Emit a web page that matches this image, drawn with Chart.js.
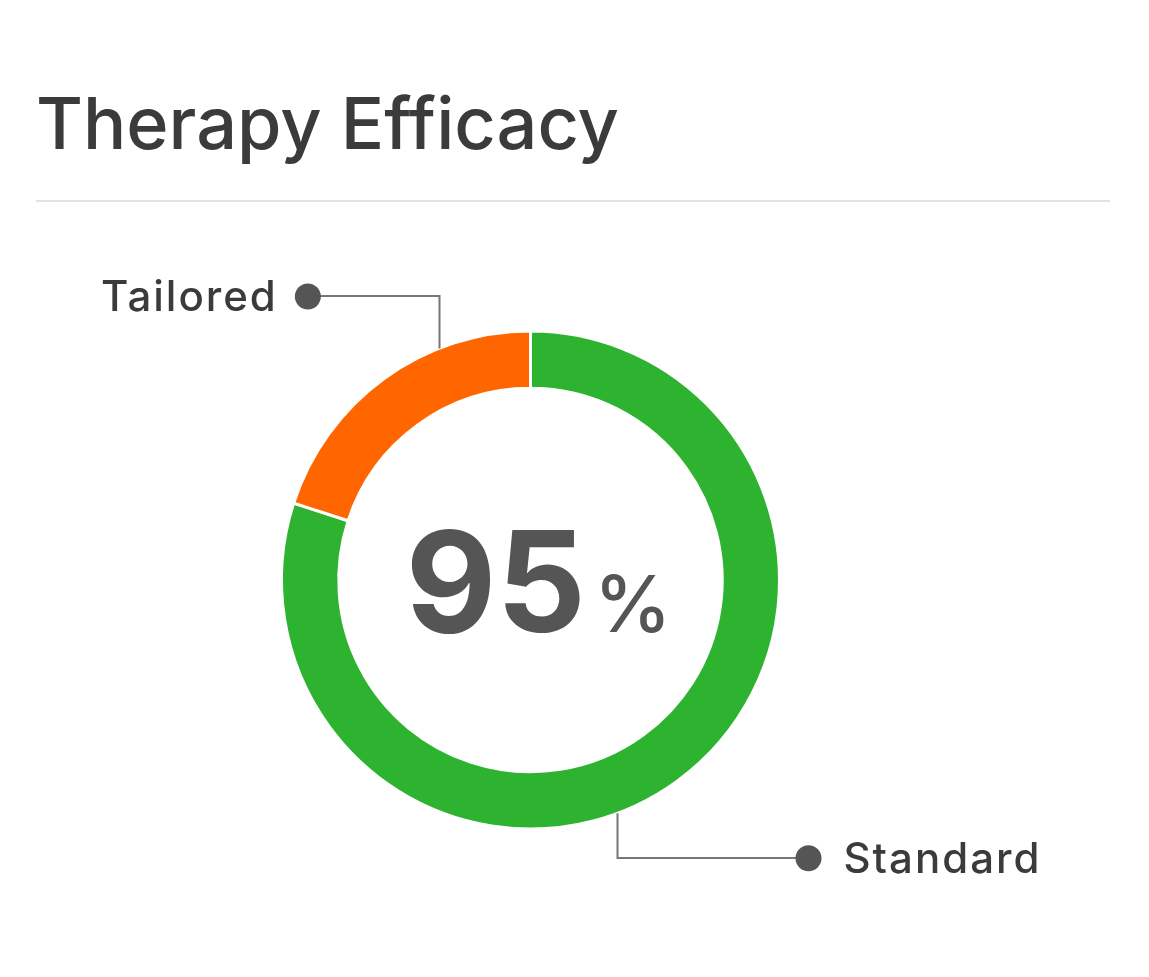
<!DOCTYPE html>
<html lang="en">
<head>
  <meta charset="UTF-8">
  <title>Therapy Efficacy</title>
  <script src="https://cdn.jsdelivr.net/npm/chart.js"></script>
  <style>
    html, body { margin: 0; padding: 0; background: #ffffff; }
    body { width: 1149px; height: 977px; position: relative; overflow: hidden; font-family: Inter, "Open Sans", sans-serif; }
    h1 { position: absolute; left: 36px; top: 78px; margin: 0; font-size: 72px; font-weight: 500; color: #3b3b3b; line-height: 90px; letter-spacing: 0; }
    .rule { position: absolute; left: 36px; top: 200px; width: 1074px; height: 2px; background: #e2e2e2; }
    #chart { position: absolute; left: 0; top: 0; }
  </style>
</head>
<body>
  <h1>Therapy Efficacy</h1>
  <div class="rule"></div>
  <canvas id="chart" width="1149" height="977"></canvas>
  <script>
    // data
    const labels = ['Standard', 'Tailored'];
    const values = [80, 20];
    const colors = ['#2db32f', '#ff6600'];
    const centerValue = '95';
    const centerUnit = '%';

    // where along each slice the leader line starts (0..1 of the slice)
    const anchorAt = [0.554, 0.70];

    const leaderPlugin = {
      id: 'leaders',
      afterDatasetsDraw(chart) {
        const ctx = chart.ctx;
        const arcs = chart.getDatasetMeta(0).data;
        ctx.save();

        // center text
        const cx = arcs[0].x, cy = arcs[0].y;
        ctx.fillStyle = '#555555';
        ctx.textBaseline = 'alphabetic';
        ctx.font = '700 140px Inter';
        const w1 = ctx.measureText(centerValue).width;
        ctx.font = '500 78px Inter';
        const w2 = ctx.measureText(centerUnit).width;
        const gap = 8;
        let x0 = cx + 8 - (w1 + gap + w2) / 2;
        ctx.font = '700 140px Inter';
        ctx.textAlign = 'left';
        ctx.fillText(centerValue, x0, cy + 52);
        ctx.font = '500 78px Inter';
        ctx.fillText(centerUnit, x0 + w1 + gap, cy + 52);

        arcs.forEach((arc, i) => {
          const a = arc.startAngle + (arc.endAngle - arc.startAngle) * anchorAt[i];
          const ax = arc.x + arc.outerRadius * Math.cos(a);
          const ay = arc.y + arc.outerRadius * Math.sin(a);
          let dotX, dotY;
          ctx.strokeStyle = '#777777';
          ctx.lineWidth = 2;
          ctx.beginPath();
          if (ay < arc.y) {
            dotY = ay - 52; dotX = ax - 131;
          } else {
            dotY = ay + 45; dotX = ax + 191;
          }
          ctx.moveTo(Math.round(ax) + 0.5, ay);
          ctx.lineTo(Math.round(ax) + 0.5, Math.round(dotY));
          ctx.lineTo(dotX, Math.round(dotY));
          ctx.stroke();

          ctx.fillStyle = '#555555';
          ctx.beginPath();
          ctx.arc(dotX, dotY, 13, 0, Math.PI * 2);
          ctx.fill();

          ctx.fillStyle = '#3b3b3b';
          ctx.font = '500 42px Inter';
          ctx.letterSpacing = '2px';
          if (ay < arc.y) {
            ctx.textAlign = 'right';
            ctx.fillText(labels[i], dotX - 30, dotY + 15);
          } else {
            ctx.textAlign = 'left';
            ctx.fillText(labels[i], dotX + 35, dotY + 15);
          }
          ctx.letterSpacing = '0px';
        });
        ctx.restore();
      }
    };

    new Chart(document.getElementById('chart'), {
      type: 'doughnut',
      data: {
        labels: labels,
        datasets: [{
          data: values,
          backgroundColor: colors,
          borderColor: '#ffffff',
          borderWidth: 3,
          hoverOffset: 0
        }]
      },
      options: {
        responsive: false,
        animation: false,
        cutout: '77%',
        layout: { padding: { left: 280, top: 329, right: 368, bottom: 146 } },
        plugins: { legend: { display: false }, tooltip: { enabled: false } }
      },
      plugins: [leaderPlugin]
    });
  </script>
</body>
</html>
